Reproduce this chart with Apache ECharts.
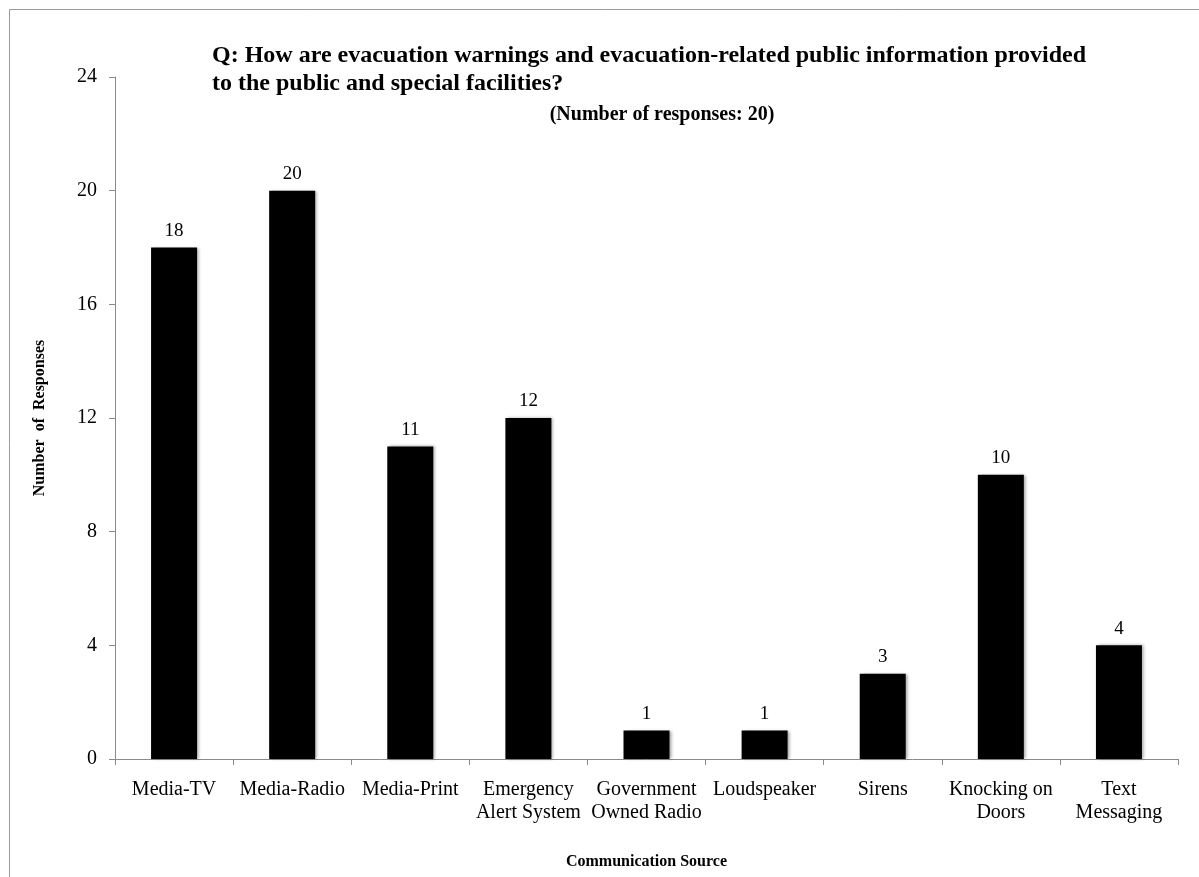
<!DOCTYPE html>
<html>
<head>
<meta charset="utf-8">
<title>Evacuation warnings communication sources</title>
<script src="https://cdn.jsdelivr.net/npm/echarts@6/dist/echarts.min.js"></script>
<style>
  html, body { margin: 0; padding: 0; background: #ffffff; }
  #chart { width: 1199px; height: 877px; }
</style>
</head>
<body>
<div id="chart"></div>
<script>
// Survey responses per communication source
const categories = [
  'Media-TV', 'Media-Radio', 'Media-Print', 'Emergency\nAlert System',
  'Government\nOwned Radio', 'Loudspeaker', 'Sirens', 'Knocking on\nDoors', 'Text\nMessaging'
];
const responses = [18, 20, 11, 12, 1, 1, 3, 10, 4];
const yTicks = { min: 0, max: 24, interval: 4 };

const titleText = 'Q: How are evacuation warnings and evacuation-related public information provided\nto the public and special facilities?';
const subtitleText = '(Number of responses: 20)';

const serif = '"Liberation Serif", "Times New Roman", serif';
const axisGray = '#8a8a8a';

const chart = echarts.init(document.getElementById('chart'), null, { renderer: 'canvas' });

chart.setOption({
  backgroundColor: '#ffffff',
  animation: false,
  title: [
    {
      text: titleText,
      left: 207,
      top: 37,
      textStyle: { fontFamily: serif, fontWeight: 'bold', fontSize: 24, color: '#000', lineHeight: 28 }
    },
    {
      text: subtitleText,
      left: 657,
      textAlign: 'center',
      top: 100,
      textStyle: { fontFamily: serif, fontWeight: 'bold', fontSize: 20, color: '#000' }
    }
  ],
  graphic: [
    {
      type: 'rect',
      shape: { x: 9.5, y: 9.5, width: 1300, height: 1000 },
      style: { fill: 'none', stroke: '#9a9a9a', lineWidth: 1 },
      silent: true
    }
  ],
  grid: { left: 115, right: 21, top: 77, bottom: 118, containLabel: false },
  xAxis: {
    type: 'category',
    data: categories,
    name: 'Communication Source',
    nameLocation: 'middle',
    nameGap: 95,
    nameTextStyle: { fontFamily: serif, fontWeight: 'bold', fontSize: 16, color: '#000' },
    axisLine: { lineStyle: { color: axisGray, width: 1 } },
    axisTick: { show: true, length: 6, alignWithLabel: false, lineStyle: { color: axisGray } },
    axisLabel: {
      interval: 0,
      margin: 19,
      fontFamily: serif,
      fontSize: 20,
      lineHeight: 23,
      color: '#000'
    }
  },
  yAxis: {
    type: 'value',
    min: yTicks.min,
    max: yTicks.max,
    interval: yTicks.interval,
    name: 'Number  of  Responses',
    nameLocation: 'middle',
    nameGap: 67,
    nameRotate: 90,
    nameTextStyle: { fontFamily: serif, fontWeight: 'bold', fontSize: 16, color: '#000' },
    splitLine: { show: false },
    axisLine: { show: true, lineStyle: { color: axisGray, width: 1 } },
    axisTick: { show: true, length: 6, lineStyle: { color: axisGray } },
    axisLabel: { margin: 18, fontFamily: serif, fontSize: 20, color: '#000' }
  },
  series: [
    {
      type: 'bar',
      data: responses,
      barWidth: 46,
      itemStyle: {
        color: '#000000',
        shadowColor: 'rgba(0,0,0,0.35)',
        shadowBlur: 3,
        shadowOffsetX: 2,
        shadowOffsetY: 0
      },
      label: {
        show: true,
        position: 'top',
        distance: 7,
        fontFamily: serif,
        fontSize: 19,
        color: '#000'
      }
    }
  ]
});
</script>
</body>
</html>
